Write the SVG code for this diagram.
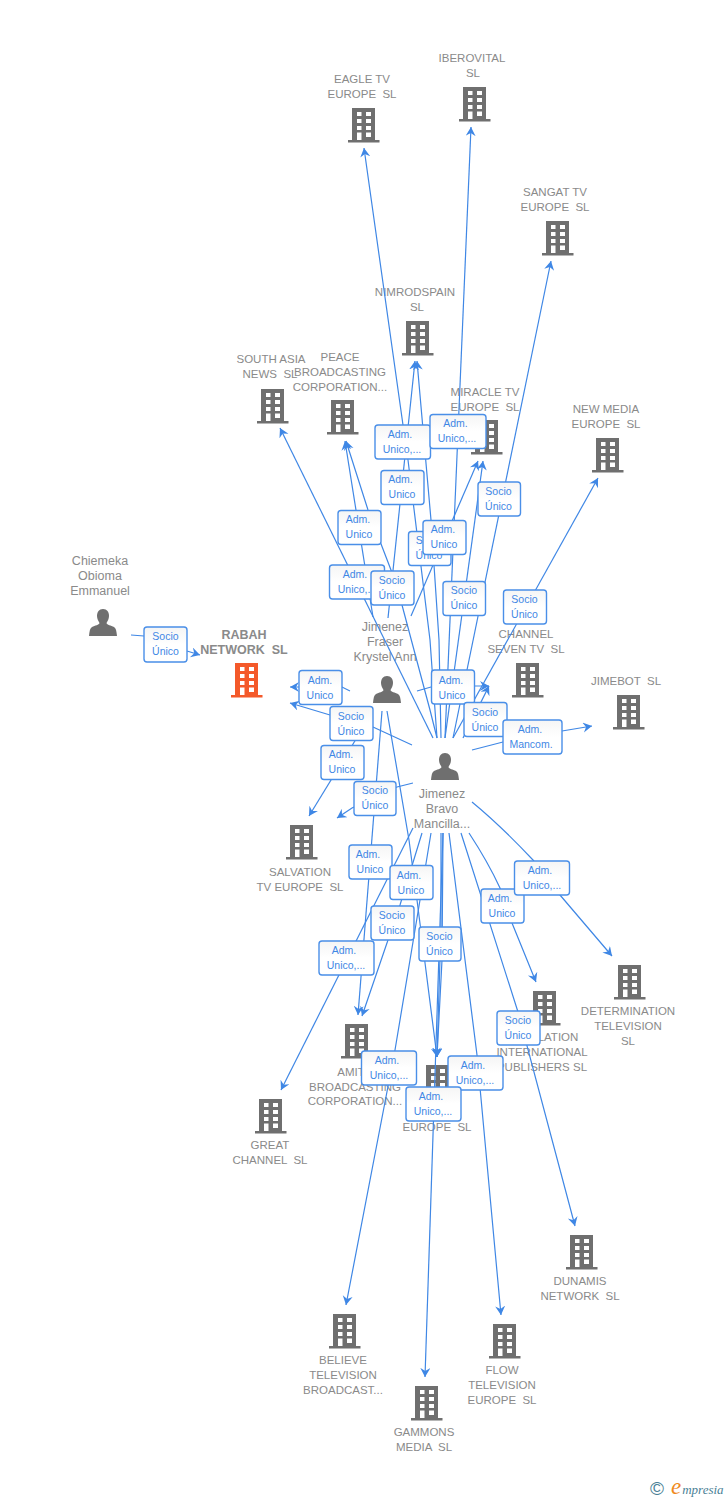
<svg xmlns="http://www.w3.org/2000/svg" width="728" height="1500" viewBox="0 0 728 1500">
<style>
.n text,.t{font-family:"Liberation Sans",Arial,sans-serif;font-size:11.5px;fill:#8a8a8a;text-anchor:middle;white-space:pre}
.b text{font-weight:bold;font-size:12.500px}
.p text{font-size:12.500px}
.e{fill:none;stroke:#3f87e5;stroke-width:1.2;marker-end:url(#a)}
.l rect{fill:url(#g);stroke:#4a8fe8;stroke-width:1.4}
.l text{font-family:"Liberation Sans",Arial,sans-serif;font-size:10.5px;fill:#3f87e5;text-anchor:middle}
</style>
<defs>
<linearGradient id="g" x1="0" y1="0" x2="0" y2="1"><stop offset="0" stop-color="#f5f5f5"/><stop offset=".5" stop-color="#fff"/><stop offset="1" stop-color="#fff"/></linearGradient>
<marker id="a" markerUnits="userSpaceOnUse" markerWidth="12" markerHeight="12" refX="9" refY="5" orient="auto"><path d="M0,0 L9,5 L0,10 L3,5 z" fill="#3f87e5"/></marker>
<symbol id="bld" width="32" height="35" viewBox="0 0 32 35" overflow="visible">
<path fill-rule="evenodd" d="M4,0 H27 V32 H31.5 V34.5 H0 V32 H4 Z M9,4 V8 H13.5 V4 Z M18,4 V8 H23 V4 Z M9,11 V15 H13.5 V11 Z M18,11 V15 H23 V11 Z M9,18 V22 H13.5 V18 Z M18,18 V22 H23 V18 Z M9,24.5 V32 H13.5 V24.5 Z M18,24.5 V29 H23 V24.5 Z"/>
</symbol>
<symbol id="per" width="28" height="28" viewBox="0 0 28 28" overflow="visible">
<path d="M14,0 C18,0 20,3 20,7 C20,10 18.500,12 17.500,14 C18,16 22,16.500 25,18 C27,19 27.500,22 28,27 H0 C0.500,22 1,19 3,18 C6,16.500 10,16 10.500,14 C9.500,12 8,10 8,7 C8,3 10,0 14,0 Z"/>
</symbol>
</defs>
<g fill="#6f6f6f">
<g id="n-eagle" class="n"><use href="#bld" x="348" y="108"/><text x="362" y="83">EAGLE TV</text><text x="362" y="98">EUROPE  SL</text></g>
<g id="n-iberovital" class="n"><use href="#bld" x="459" y="87"/><text x="472" y="62">IBEROVITAL</text><text x="473" y="77">SL</text></g>
<g id="n-sangat" class="n"><use href="#bld" x="542" y="221"/><text x="555" y="196">SANGAT TV</text><text x="555" y="211">EUROPE  SL</text></g>
<g id="n-nimrod" class="n"><use href="#bld" x="402" y="321"/><text x="415" y="296">NIMRODSPAIN</text><text x="417" y="311">SL</text></g>
<g id="n-southasia" class="n"><use href="#bld" x="257" y="389"/><text x="271" y="363">SOUTH ASIA</text><text x="270" y="378">NEWS  SL</text></g>
<g id="n-peace" class="n"><use href="#bld" x="327" y="400"/><text x="340" y="361">PEACE</text><text x="340" y="376">BROADCASTING</text><text x="340" y="391">CORPORATION...</text></g>
<g id="n-miracle" class="n"><use href="#bld" x="471" y="420"/><text x="485" y="396">MIRACLE TV</text><text x="485" y="411">EUROPE  SL</text></g>
<g id="n-newmedia" class="n"><use href="#bld" x="592" y="438"/><text x="606" y="413">NEW MEDIA</text><text x="606" y="428">EUROPE  SL</text></g>
<g id="n-channel" class="n"><use href="#bld" x="512" y="663"/><text x="526" y="638">CHANNEL</text><text x="526" y="653">SEVEN TV  SL</text></g>
<g id="n-jimebot" class="n"><use href="#bld" x="613" y="695"/><text x="626" y="685">JIMEBOT  SL</text></g>
<g id="n-rabah" class="n b"><use href="#bld" x="231" y="663" fill="#f4592a"/><text x="244" y="639">RABAH</text><text x="244" y="654">NETWORK  SL</text></g>
<g id="n-salvation" class="n"><use href="#bld" x="286" y="825"/><text x="300" y="876">SALVATION</text><text x="300" y="891">TV EUROPE  SL</text></g>
<g id="n-determination" class="n"><use href="#bld" x="614" y="965"/><text x="628" y="1015">DETERMINATION</text><text x="628" y="1030">TELEVISION</text><text x="628" y="1045">SL</text></g>
<g id="n-relation" class="n"><use href="#bld" x="529" y="991"/><text x="558" y="1041">LATION</text><text x="542" y="1056">INTERNATIONAL</text><text x="542" y="1071">PUBLISHERS SL</text></g>
<g id="n-amit" class="n"><use href="#bld" x="341" y="1024"/><text x="351" y="1076">AMIT</text><text x="355" y="1091">BROADCASTING</text><text x="355" y="1105">CORPORATION...</text></g>
<g id="n-europe" class="n"><use href="#bld" x="422" y="1065"/><text x="437" y="1131">EUROPE  SL</text></g>
<g id="n-great" class="n"><use href="#bld" x="255" y="1099"/><text x="270" y="1149">GREAT</text><text x="270" y="1164">CHANNEL  SL</text></g>
<g id="n-dunamis" class="n"><use href="#bld" x="566" y="1235"/><text x="580" y="1285">DUNAMIS</text><text x="580" y="1300">NETWORK  SL</text></g>
<g id="n-believe" class="n"><use href="#bld" x="329" y="1314"/><text x="343" y="1364">BELIEVE</text><text x="343" y="1379">TELEVISION</text><text x="343" y="1394">BROADCAST...</text></g>
<g id="n-flow" class="n"><use href="#bld" x="489" y="1324"/><text x="502" y="1374">FLOW</text><text x="502" y="1389">TELEVISION</text><text x="502" y="1404">EUROPE  SL</text></g>
<g id="n-gammons" class="n"><use href="#bld" x="411" y="1386"/><text x="424" y="1436">GAMMONS</text><text x="424" y="1451">MEDIA  SL</text></g>
<g id="p-chiemeka" class="n p"><use href="#per" x="89" y="609"/><text x="100" y="565">Chiemeka</text><text x="100" y="580">Obioma</text><text x="100" y="595">Emmanuel</text></g>
<g id="p-fraser" class="n p"><use href="#per" x="373" y="676"/><text x="385" y="631">Jimenez</text><text x="385" y="646">Fraser</text><text x="385" y="661">Krystel Ann</text></g>
<g id="p-bravo" class="n p"><use href="#per" x="431" y="753"/><text x="442" y="798">Jimenez</text><text x="442" y="813">Bravo</text><text x="442" y="828">Mancilla...</text></g>
</g>
<g id="connectors">
<path class="e" d="M131,635 L144,636 L187,651 L200,655"/>
<path class="e" d="M350,691 L342,687 L298,687 L290,687"/>
<path class="e" d="M412,745 L373,727 L330,715 L290,703"/>
<path class="e" d="M372,713 L309,816"/>
<path class="e" d="M413,783 L397,787 L352,808 L337,818"/>
<path class="e" d="M382,711 L358,1015"/>
<path class="e" d="M422,833 L400,905 L388,940 L362,1016"/>
<path class="e" d="M387,711 L409,840 L417,900 L437,1057"/>
<path class="e" d="M441,833 L441,926 L437,1057"/>
<path class="e" d="M443,833 L442,960 L437,1057"/>
<path class="e" d="M443,833 L425,1377"/>
<path class="e" d="M413,828 L281,1090"/>
<path class="e" d="M431,833 L420,900 L395,1050 L346,1305"/>
<path class="e" d="M449,833 L477,1055 L501,1315"/>
<path class="e" d="M461,833 L518,1012 L575,1226"/>
<path class="e" d="M469,833 Q488,862 500,888 L512,923 L536,982"/>
<path class="e" d="M472,802 Q500,825 533,860 L560,895 L612,956"/>
<path class="e" d="M472,750 L503,742 L562,731 L592,726"/>
<path class="e" d="M417,691 L431,687 L474,686 L489,686"/>
<path class="e" d="M463,738 L489,686"/>
<path class="e" d="M453,738 L598,478"/>
<path class="e" d="M437,738 L430,640 L408,460 L403,425 L364,148"/>
<path class="e" d="M388,618 L415,361"/>
<path class="e" d="M441,738 L439,640 L431,520 L417,361"/>
<path class="e" d="M373,617 L345,441"/>
<path class="e" d="M437,738 L430,710 L402,605 L391,570 L368,510 L346,441"/>
<path class="e" d="M433,738 L280,428"/>
<path class="e" d="M445,738 L483,461"/>
<path class="e" d="M411,616 L478,461"/>
<path class="e" d="M445,738 L471,127"/>
<path class="e" d="M453,738 L551,261"/>
<g id="edge-labels" class="l">
<g><rect x="144" y="627" width="43" height="35" rx="3"/><text x="165.500" y="640">Socio</text><text x="165.500" y="655">Único</text></g>
<g><rect x="299" y="670.500" width="43" height="34" rx="3"/><text x="320" y="684">Adm.</text><text x="320" y="699">Unico</text></g>
<g><rect x="330" y="706.500" width="43" height="34" rx="3"/><text x="351" y="720">Socio</text><text x="351" y="735">Único</text></g>
<g><rect x="321" y="745.500" width="43" height="34" rx="3"/><text x="341" y="758">Adm.</text><text x="342" y="773">Unico</text></g>
<g><rect x="354" y="781.500" width="42" height="34" rx="3"/><text x="375" y="794">Socio</text><text x="375" y="809">Único</text></g>
<g><rect x="349" y="845" width="43" height="34" rx="3"/><text x="368" y="858">Adm.</text><text x="370" y="873">Unico</text></g>
<g><rect x="390" y="865.500" width="43" height="34" rx="3"/><text x="409" y="879">Adm.</text><text x="411" y="894">Unico</text></g>
<g><rect x="319" y="941" width="55" height="34" rx="3"/><text x="344" y="954">Adm.</text><text x="346" y="969">Unico,...</text></g>
<g><rect x="371" y="906" width="43" height="34" rx="3"/><text x="392" y="919">Socio</text><text x="392" y="934">Único</text></g>
<g><rect x="419" y="927" width="42" height="34" rx="3"/><text x="439.500" y="940">Socio</text><text x="439.500" y="955">Único</text></g>
<g><rect x="481" y="889" width="43" height="34" rx="3"/><text x="500" y="902">Adm.</text><text x="502" y="917">Unico</text></g>
<g><rect x="514.500" y="861" width="55" height="34" rx="3"/><text x="540" y="874">Adm.</text><text x="542" y="889">Unico,...</text></g>
<g><rect x="497" y="1011" width="43" height="34" rx="3"/><text x="518" y="1024">Socio</text><text x="518" y="1039">Único</text></g>
<g><rect x="361.500" y="1051" width="55" height="34" rx="3"/><text x="387" y="1064">Adm.</text><text x="389" y="1079">Unico,...</text></g>
<g><rect x="448" y="1056" width="55" height="34" rx="3"/><text x="473" y="1069">Adm.</text><text x="475" y="1084">Unico,...</text></g>
<g><rect x="406" y="1087" width="55" height="34" rx="3"/><text x="431" y="1100">Adm.</text><text x="433" y="1115">Unico,...</text></g>
<g><rect x="431.500" y="670" width="43" height="34" rx="3"/><text x="451" y="684">Adm.</text><text x="452" y="699">Unico</text></g>
<g><rect x="464" y="702.500" width="43" height="34" rx="3"/><text x="485" y="716">Socio</text><text x="485" y="731">Único</text></g>
<g><rect x="503" y="720" width="59" height="34" rx="3"/><text x="530" y="733">Adm.</text><text x="531" y="748">Mancom.</text></g>
<g><rect x="503.500" y="590" width="43" height="34" rx="3"/><text x="524.500" y="603">Socio</text><text x="524.500" y="618">Único</text></g>
<g><rect x="375" y="425" width="55.500" height="34" rx="3"/><text x="400" y="438">Adm.</text><text x="402" y="453">Unico,...</text></g>
<g><rect x="430" y="414.500" width="56" height="34" rx="3"/><text x="455.500" y="427">Adm.</text><text x="457" y="442">Unico,...</text></g>
<g><rect x="381" y="470.500" width="43" height="34" rx="3"/><text x="400.500" y="483">Adm.</text><text x="402" y="498">Unico</text></g>
<g><rect x="478" y="482" width="42.500" height="34" rx="3"/><text x="498.500" y="495">Socio</text><text x="498.500" y="510">Único</text></g>
<g><rect x="338" y="510.500" width="43" height="34" rx="3"/><text x="358" y="523">Adm.</text><text x="359" y="538">Unico</text></g>
<g><rect x="408.500" y="531.500" width="42.500" height="34" rx="3"/><text x="429" y="544">Socio</text><text x="429" y="559">Único</text></g>
<g><rect x="423" y="520.500" width="43" height="34" rx="3"/><text x="443" y="533">Adm.</text><text x="444" y="548">Unico</text></g>
<g><rect x="329.500" y="565" width="55" height="34" rx="3"/><text x="355" y="578">Adm.</text><text x="357" y="593">Unico,...</text></g>
<g><rect x="371" y="571" width="43" height="34" rx="3"/><text x="392" y="584">Socio</text><text x="392" y="599">Único</text></g>
<g><rect x="443" y="581.500" width="42.500" height="34" rx="3"/><text x="464" y="594">Socio</text><text x="464" y="609">Único</text></g>
</g>
</g>
<g id="logo"><text x="650" y="1495" font-family="'Liberation Sans',sans-serif" font-size="19" fill="#4a7f96">©</text><text x="671" y="1494" font-family="'Liberation Serif',serif" font-style="italic" font-size="13" fill="#4a7f96"><tspan font-size="23" fill="#f08a1d">e</tspan><tspan dx="1">mpresia</tspan></text></g>
</svg>
